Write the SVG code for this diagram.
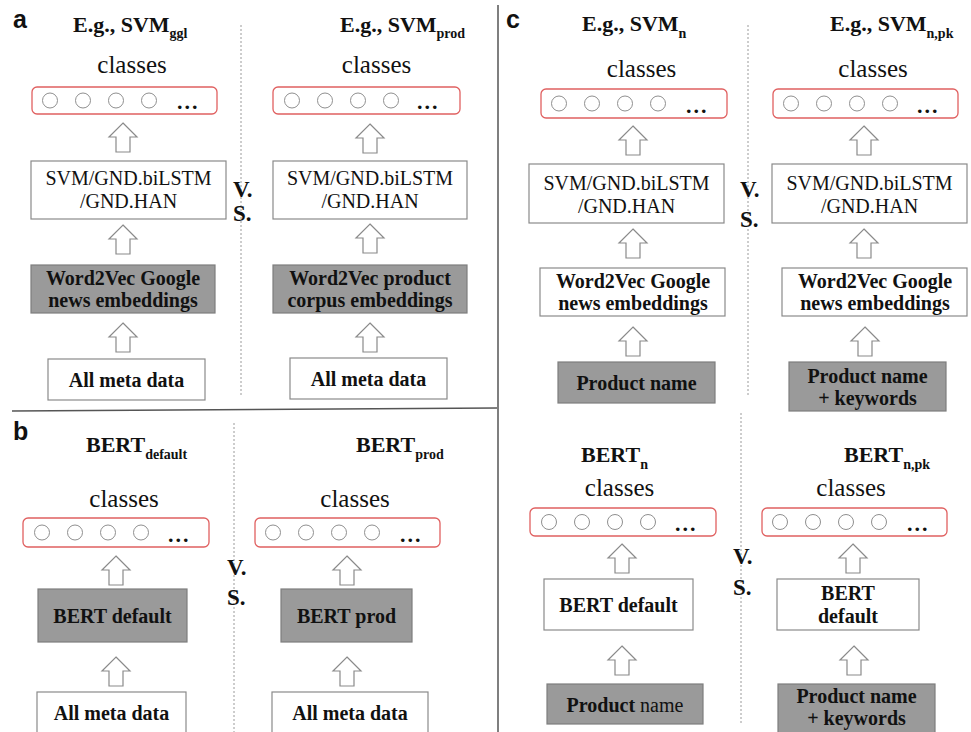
<svg xmlns="http://www.w3.org/2000/svg" xmlns:xlink="http://www.w3.org/1999/xlink" width="971" height="732" viewBox="0 0 971 732">
<style>
.t{font-family:"Liberation Serif","Times New Roman",serif;fill:#111}
.b{font-weight:bold}
.title{font-family:"Liberation Serif","Times New Roman",serif;font-weight:bold;font-size:22px;fill:#111}
.sub{font-size:14px}
.cls{font-family:"Liberation Serif","Times New Roman",serif;font-size:25px;fill:#111;text-anchor:middle}
.box{fill:#fff;stroke:#8a8a8a;stroke-width:1.2}
.gbox{fill:#9a9a9a;stroke:#7e7e7e;stroke-width:1.2}
.rbox{fill:#fff;stroke:#e06060;stroke-width:1.3}
.dot{fill:#fff;stroke:#8f8f8f;stroke-width:1}
.m{text-anchor:middle}
.f20{font-size:20px}
.vs{font-family:"Liberation Serif","Times New Roman",serif;font-weight:bold;font-size:23px;fill:#111}
.pl{font-family:"Liberation Sans",Arial,sans-serif;font-weight:bold;font-size:25px;fill:#111}
.arr{fill:#fff;stroke:#8a8a8a;stroke-width:1.2}
.dash{stroke:#9a9a9a;stroke-width:1;stroke-dasharray:2,2;fill:none}
.solid{stroke:#555;stroke-width:1.5;fill:none}
.ell{font-family:"Liberation Serif","Times New Roman",serif;font-weight:bold;font-size:22px;fill:#111;letter-spacing:2px}
</style>
<defs>
<path id="up" class="arr" d="M0,0 L14,14 L7,14 L7,29 L-7,29 L-7,14 L-14,14 Z"/>
<g id="circles">
<circle class="dot" cx="18" cy="0" r="7.5"/>
<circle class="dot" cx="51" cy="0" r="7.5"/>
<circle class="dot" cx="84" cy="0" r="7.5"/>
<circle class="dot" cx="117" cy="0" r="7.5"/>
</g>
</defs>
<rect width="971" height="732" fill="#fff"/>

<g id="dividers">
<line class="solid" x1="498" y1="5" x2="498" y2="732"/>
<line class="solid" x1="12" y1="411" x2="497" y2="408"/>
<line class="dash" x1="241" y1="25" x2="241" y2="396"/>
<line class="dash" x1="234" y1="423" x2="234" y2="732"/>
<line class="dash" x1="748" y1="25" x2="748" y2="395"/>
<line class="dash" x1="741" y1="413" x2="741" y2="723"/>
</g>

<g id="labels">
<text class="pl" x="13" y="28">a</text>
<text class="pl" x="13" y="440">b</text>
<text class="pl" x="506" y="28">c</text>
<text class="vs" x="233" y="197">V.</text>
<text class="vs" x="233" y="221">S.</text>
<text class="vs" x="227" y="575">V.</text>
<text class="vs" x="227" y="605">S.</text>
<text class="vs" x="740" y="197">V.</text>
<text class="vs" x="740" y="227">S.</text>
<text class="vs" x="733" y="564">V.</text>
<text class="vs" x="733" y="595">S.</text>
</g>

<g id="titles">
<text class="title" x="73" y="32">E.g., SVM<tspan class="sub" dy="6">ggl</tspan></text>
<text class="title" x="340" y="32">E.g., SVM<tspan class="sub" dy="6">prod</tspan></text>
<text class="title" x="582" y="31">E.g., SVM<tspan class="sub" dy="7">n</tspan></text>
<text class="title" x="830" y="31">E.g., SVM<tspan class="sub" dy="7">n,pk</tspan></text>
<text class="title" x="86" y="452">BERT<tspan class="sub" dy="7">default</tspan></text>
<text class="title" x="356" y="452">BERT<tspan class="sub" dy="7">prod</tspan></text>
<text class="title" x="581" y="462">BERT<tspan class="sub" dy="7">n</tspan></text>
<text class="title" x="844" y="462">BERT<tspan class="sub" dy="7">n,pk</tspan></text>
</g>

<g id="classes-a-left">
<text class="cls" x="132" y="73">classes</text>
<rect class="rbox" x="32" y="87" width="185" height="27" rx="5"/>
<use xlink:href="#circles" href="#circles" transform="translate(32,100.5)"/>
<text class="ell" x="177" y="109">...</text>
</g>
<g id="classes-a-right">
<text class="cls" x="376.5" y="73">classes</text>
<rect class="rbox" x="273" y="87" width="187" height="27" rx="5"/>
<use xlink:href="#circles" href="#circles" transform="translate(274,100.5)"/>
<text class="ell" x="417" y="109">...</text>
</g>
<g id="classes-b-left">
<text class="cls" x="124" y="507">classes</text>
<rect class="rbox" x="23" y="518" width="186" height="29" rx="5"/>
<use xlink:href="#circles" href="#circles" transform="translate(24,532.5)"/>
<text class="ell" x="168" y="542">...</text>
</g>
<g id="classes-b-right">
<text class="cls" x="355" y="507">classes</text>
<rect class="rbox" x="255" y="518" width="185" height="29" rx="5"/>
<use xlink:href="#circles" href="#circles" transform="translate(255,532.5)"/>
<text class="ell" x="400" y="542">...</text>
</g>
<g id="classes-c-left">
<text class="cls" x="641.5" y="77">classes</text>
<rect class="rbox" x="541" y="89" width="186" height="29" rx="5"/>
<use xlink:href="#circles" href="#circles" transform="translate(541,103.5)"/>
<text class="ell" x="686" y="113">...</text>
</g>
<g id="classes-c-right">
<text class="cls" x="873" y="77">classes</text>
<rect class="rbox" x="773" y="89" width="185" height="29" rx="5"/>
<use xlink:href="#circles" href="#circles" transform="translate(773,103.5)"/>
<text class="ell" x="917" y="113">...</text>
</g>
<g id="classes-cb-left">
<text class="cls" x="619.5" y="496">classes</text>
<rect class="rbox" x="530" y="508" width="186" height="28" rx="5"/>
<use xlink:href="#circles" href="#circles" transform="translate(531,522)"/>
<text class="ell" x="675" y="531">...</text>
</g>
<g id="classes-cb-right">
<text class="cls" x="851" y="496">classes</text>
<rect class="rbox" x="762" y="508" width="185" height="28" rx="5"/>
<use xlink:href="#circles" href="#circles" transform="translate(762,522)"/>
<text class="ell" x="907" y="531">...</text>
</g>

<g id="model-a-left">
<rect class="box" x="31" y="161" width="195" height="58"/>
<text class="t f20 m" x="128.5" y="185">SVM/GND.biLSTM</text>
<text class="t f20 m" x="128.5" y="208">/GND.HAN</text>
</g>
<g id="emb-a-left">
<rect class="gbox" x="31" y="265" width="184" height="48"/>
<text class="t b f20 m" x="123" y="285">Word2Vec Google</text>
<text class="t b f20 m" x="123" y="307">news embeddings</text>
</g>
<g id="input-a-left">
<rect class="box" x="48" y="359" width="157" height="41"/>
<text class="t b f20 m" x="126.5" y="387">All meta data</text>
</g>
<g id="model-a-right">
<rect class="box" x="273" y="161" width="194" height="58"/>
<text class="t f20 m" x="370" y="185">SVM/GND.biLSTM</text>
<text class="t f20 m" x="370" y="208">/GND.HAN</text>
</g>
<g id="emb-a-right">
<rect class="gbox" x="273" y="265" width="194" height="48"/>
<text class="t b f20 m" x="370" y="285">Word2Vec product</text>
<text class="t b f20 m" x="370" y="307">corpus embeddings</text>
</g>
<g id="input-a-right">
<rect class="box" x="290" y="358" width="157" height="41"/>
<text class="t b f20 m" x="368.5" y="386">All meta data</text>
</g>

<g id="model-b-left">
<rect class="gbox" x="38" y="589" width="149" height="53"/>
<text class="t b f20 m" x="112.5" y="623">BERT default</text>
</g>
<g id="input-b-left">
<rect class="box" x="37" y="692" width="149" height="42"/>
<text class="t b f20 m" x="111.5" y="720">All meta data</text>
</g>
<g id="model-b-right">
<rect class="gbox" x="281" y="589" width="131" height="53"/>
<text class="t b f20 m" x="346.5" y="623">BERT prod</text>
</g>
<g id="input-b-right">
<rect class="box" x="272" y="692" width="156" height="42"/>
<text class="t b f20 m" x="350" y="720">All meta data</text>
</g>

<g id="model-c-left">
<rect class="box" x="529" y="164" width="195" height="59"/>
<text class="t f20 m" x="626.5" y="190">SVM/GND.biLSTM</text>
<text class="t f20 m" x="626.5" y="213">/GND.HAN</text>
</g>
<g id="emb-c-left">
<rect class="box" x="540" y="268" width="185" height="48"/>
<text class="t b f20 m" x="633" y="288">Word2Vec Google</text>
<text class="t b f20 m" x="633" y="310">news embeddings</text>
</g>
<g id="input-c-left">
<rect class="gbox" x="558" y="362" width="157" height="41"/>
<text class="t b f20 m" x="636.5" y="390">Product name</text>
</g>
<g id="model-c-right">
<rect class="box" x="772" y="164" width="195" height="59"/>
<text class="t f20 m" x="869.5" y="190">SVM/GND.biLSTM</text>
<text class="t f20 m" x="869.5" y="213">/GND.HAN</text>
</g>
<g id="emb-c-right">
<rect class="box" x="782" y="268" width="185" height="48"/>
<text class="t b f20 m" x="875" y="288">Word2Vec Google</text>
<text class="t b f20 m" x="875" y="310">news embeddings</text>
</g>
<g id="input-c-right">
<rect class="gbox" x="789" y="362" width="157" height="49"/>
<text class="t b f20 m" x="867.5" y="383">Product name</text>
<text class="t b f20 m" x="867.5" y="405">+ keywords</text>
</g>

<g id="model-cb-left">
<rect class="box" x="544" y="579" width="149" height="51"/>
<text class="t b f20 m" x="618.5" y="612">BERT default</text>
</g>
<g id="input-cb-left">
<rect class="gbox" x="547" y="684" width="156" height="40"/>
<text class="t f20 m" x="625" y="712"><tspan class="b">Product</tspan> name</text>
</g>
<g id="model-cb-right">
<rect class="box" x="777" y="579" width="142" height="51"/>
<text class="t b f20 m" x="848" y="600">BERT</text>
<text class="t b f20 m" x="848" y="623">default</text>
</g>
<g id="input-cb-right">
<rect class="gbox" x="778" y="684" width="157" height="50"/>
<text class="t b f20 m" x="856.5" y="703">Product name</text>
<text class="t b f20 m" x="856.5" y="725">+ keywords</text>
</g>

<g id="connectors">
<use xlink:href="#up" href="#up" x="123" y="123"/>
<use xlink:href="#up" href="#up" x="123" y="225"/>
<use xlink:href="#up" href="#up" x="123" y="323"/>
<use xlink:href="#up" href="#up" x="370" y="124"/>
<use xlink:href="#up" href="#up" x="370" y="224"/>
<use xlink:href="#up" href="#up" x="370" y="323"/>
<use xlink:href="#up" href="#up" x="116" y="556"/>
<use xlink:href="#up" href="#up" x="116" y="657"/>
<use xlink:href="#up" href="#up" x="347" y="556"/>
<use xlink:href="#up" href="#up" x="347" y="657"/>
<use xlink:href="#up" href="#up" x="633" y="126"/>
<use xlink:href="#up" href="#up" x="633" y="229"/>
<use xlink:href="#up" href="#up" x="633" y="327"/>
<use xlink:href="#up" href="#up" x="864" y="126"/>
<use xlink:href="#up" href="#up" x="864" y="229"/>
<use xlink:href="#up" href="#up" x="865" y="327"/>
<use xlink:href="#up" href="#up" x="622" y="544"/>
<use xlink:href="#up" href="#up" x="622" y="646"/>
<use xlink:href="#up" href="#up" x="853" y="544"/>
<use xlink:href="#up" href="#up" x="854" y="646"/>
</g>
</svg>
